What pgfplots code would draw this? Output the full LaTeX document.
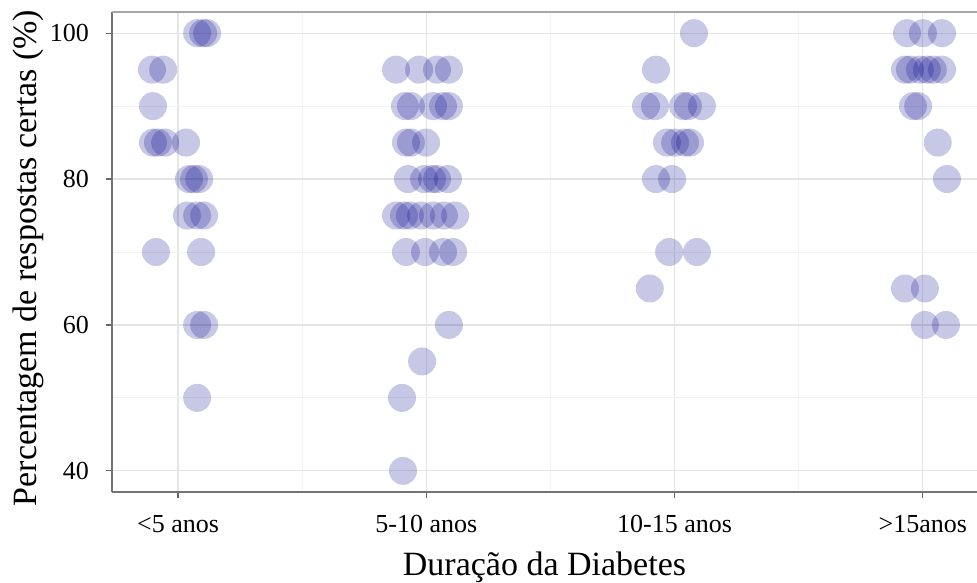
\documentclass[border=0pt]{standalone}
\usepackage{fontspec}
\setmainfont{Liberation Serif}
\usepackage{pgfplots}
\pgfplotsset{compat=1.18}
\definecolor{pt}{RGB}{0,0,139}
\begin{document}
\begin{tikzpicture}
\begin{axis}[
  scale only axis,
  width=432.5pt, height=240pt,
  xmin=-0.266, xmax=3.218,
  ymin=37.1, ymax=102.9,
  axis x line*=bottom, axis y line*=left,
  axis line style={black!55, line width=0.6pt},
  xtick={0,1,2,3},
  xticklabels={<5 anos, 5-10 anos, 10-15 anos, >15anos},
  ytick={40,60,80,100},
  minor xtick={0.5,1.5,2.5},
  minor ytick={50,70,90},
  grid=both,
  major grid style={black!10, line width=0.6pt},
  minor grid style={black!5, line width=0.5pt},
  tick align=outside,
  major tick length=3pt,
  minor tick length=0pt,
  tick style={black!60, line width=0.6pt},
  /pgf/number format/assume math mode=true,
  ticklabel style={font=\fontsize{13}{15}\selectfont, text=black},
  xticklabel style={anchor=base, yshift=-17pt},
  yticklabel style={anchor=east, xshift=-5pt},
  label style={font=\fontsize{17}{20}\selectfont},
  xlabel={Duração da Diabetes},
  ylabel={Percentagem de respostas certas (\%)},
  xlabel style={at={(axis description cs:0.5,0)}, anchor=base, yshift=-41.5pt},
  ylabel style={at={(axis description cs:-0.0971,0.4875)}, anchor=center},
  clip=false,
]
\coordinate (SW) at (rel axis cs:0,0);
\coordinate (NE) at (rel axis cs:1,1);
\draw[black!35, line width=0.6pt] (rel axis cs:0,1) -- (rel axis cs:1,1);
\addplot[only marks, mark=*, mark size=7pt, draw=pt, fill=pt, mark options={draw opacity=0, fill=pt, fill opacity=0.22}] coordinates {
(0.077,100) (0.101,100) (0.117,100)
(-0.105,95) (-0.060,95)
(-0.101,90)
(-0.101,85) (-0.081,85) (-0.052,85) (0.032,85)
(0.044,80) (0.064,80) (0.085,80)
(0.036,75) (0.077,75) (0.105,75)
(-0.089,70) (0.093,70)
(0.077,60) (0.105,60)
(0.077,50)
(0.878,95) (0.971,95) (1.043,95) (1.091,95)
(0.914,90) (0.938,90) (1.027,90) (1.067,90) (1.091,90)
(0.918,85) (0.938,85) (0.999,85)
(0.926,80) (0.991,80) (1.023,80) (1.043,80) (1.087,80)
(0.878,75) (0.910,75) (0.934,75) (0.979,75) (1.027,75) (1.071,75) (1.116,75)
(0.918,70) (0.995,70) (1.067,70) (1.108,70)
(1.091,60)
(0.983,55)
(0.902,50)
(0.906,40)
(2.078,100)
(1.925,95)
(1.885,90) (1.921,90) (2.034,90) (2.054,90) (2.110,90)
(1.969,85) (2.002,85) (2.042,85) (2.062,85)
(1.925,80) (1.990,80)
(1.978,70) (2.090,70)
(1.900,65)
(2.936,100) (3.000,100) (3.077,100)
(2.928,95) (2.948,95) (2.988,95) (3.016,95) (3.040,95) (3.077,95)
(2.960,90) (2.981,90)
(3.060,85)
(3.097,80)
(2.928,65) (3.008,65)
(3.008,60) (3.093,60)
};
\end{axis}
\pgfresetboundingbox
\useasboundingbox ([xshift=-56pt,yshift=-45pt]SW) rectangle ([yshift=6pt]NE);
\end{tikzpicture}
\end{document}
